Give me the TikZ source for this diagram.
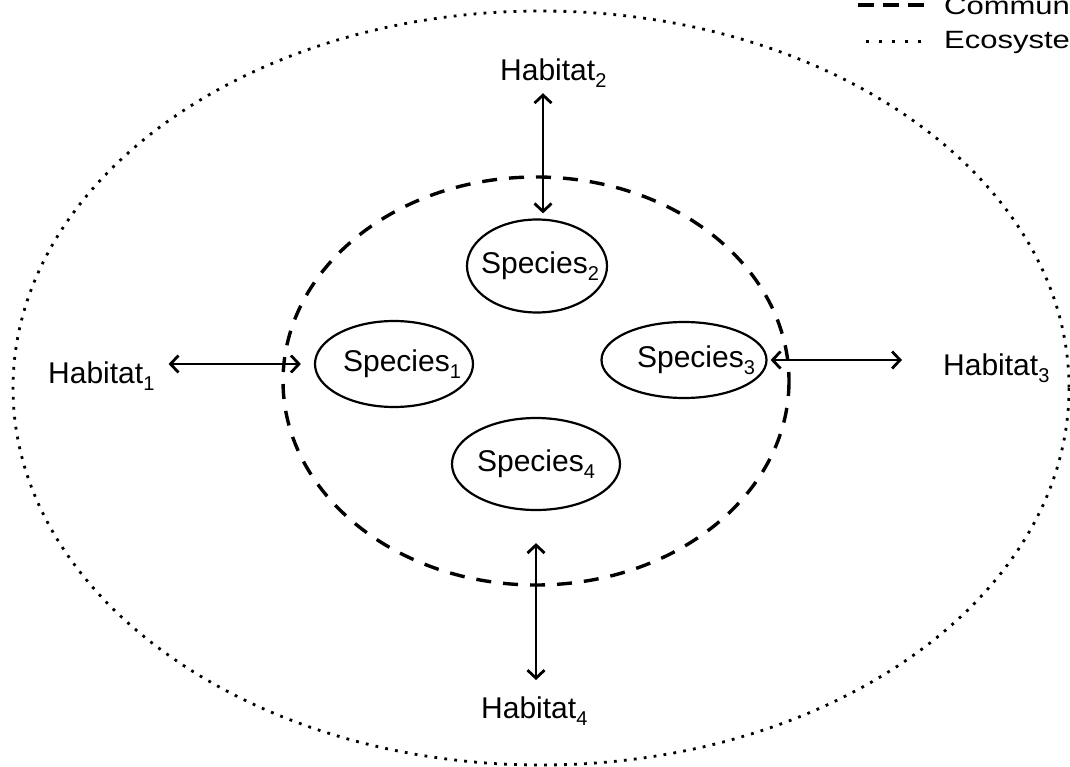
\documentclass[tikz,border=0pt]{standalone}
\usepackage{fontspec}
\usepackage{graphicx}
\setmainfont{Liberation Sans}
\usetikzlibrary{arrows.meta,shapes.geometric}
\newcommand{\sbx}[1]{\raisebox{-7pt}{\fontsize{20}{20}\selectfont #1}}
\begin{document}
\begin{tikzpicture}[x=1pt,y=-1pt,
  lab/.style={inner sep=0pt, font=\fontsize{30}{36}\selectfont},
  sp/.style={ellipse, draw, line width=2.2pt, inner sep=0pt, font=\fontsize{30}{36}\selectfont},
  tip/.tip={Straight Barb[length=8pt,width=17pt,line width=2.8pt]},
  arr/.style={line width=2.8pt, tip-tip},
  comm/.style={line width=3.4pt, dash pattern=on 15pt off 12pt},
  eco/.style={line width=2.8pt, dash pattern=on 2.8pt off 7.2pt},
  legtext/.style={inner sep=0pt, anchor=base west, font=\fontsize{25}{30}\selectfont},
]
\useasboundingbox (0,0) rectangle (1070,767);
\clip (0,0) rectangle (1070,767);

% ecosystem and community boundaries
\draw[eco] (541,388) ellipse [x radius=528, y radius=377];
\draw[comm] (536,381) ellipse [x radius=253, y radius=204];

% species
\node[sp, minimum width=158pt, minimum height=86pt] (s1) at (394,364) {\makebox[0pt]{\kern16pt Species\sbx{1}}};
\node[sp, minimum width=140pt, minimum height=93pt] (s2) at (537,266) {\makebox[0pt]{\kern6pt Species\sbx{2}}};
\node[sp, minimum width=165pt, minimum height=76pt] (s3) at (684,360) {\makebox[0pt]{\kern24pt Species\sbx{3}}};
\node[sp, minimum width=168pt, minimum height=92pt] (s4) at (536,464) {\makebox[0pt]{\kern0pt Species\sbx{4}}};

% habitats
\node[lab, anchor=base west] (h1) at (48,383) {Habitat\sbx{1}};
\node[lab, anchor=base west] (h2) at (500,81) {Habitat\sbx{2}};
\node[lab, anchor=base west] (h3) at (943,375) {Habitat\sbx{3}};
\node[lab, anchor=base west] (h4) at (481,718) {Habitat\sbx{4}};

% connectors
\draw[arr, shorten <=14pt, shorten >=13pt] (h1.east |- s1.west) -- (s1.west);
\draw[arr, shorten <=5pt, shorten >=5pt] ([xshift=6pt]s2.north |- h2.south) -- ([xshift=6pt]s2.north);
\draw[arr, shorten <=3pt, shorten >=41pt] (s3.east) -- (s3.east -| h3.west);
\draw[arr, shorten <=32pt, shorten >=16pt] (s4.south) -- (s4.south |- h4.north);

% legend
\node[legtext] (leg1) at (944,15) {\scalebox{1.24}[1]{Community}};
\node[legtext] (leg2) at (944,49) {\scalebox{1.24}[1]{Ecosystem}};
\coordinate (l1a) at (858,5);
\coordinate (l1b) at (925,5);
\coordinate (l2a) at (866,42);
\coordinate (l2b) at (921,42);
\draw[line width=3.2pt, dash pattern=on 16pt off 9pt] (l1a) -- (l1b);
\draw[line width=3pt, dash pattern=on 3pt off 10pt] (l2a) -- (l2b);
\end{tikzpicture}
\end{document}
